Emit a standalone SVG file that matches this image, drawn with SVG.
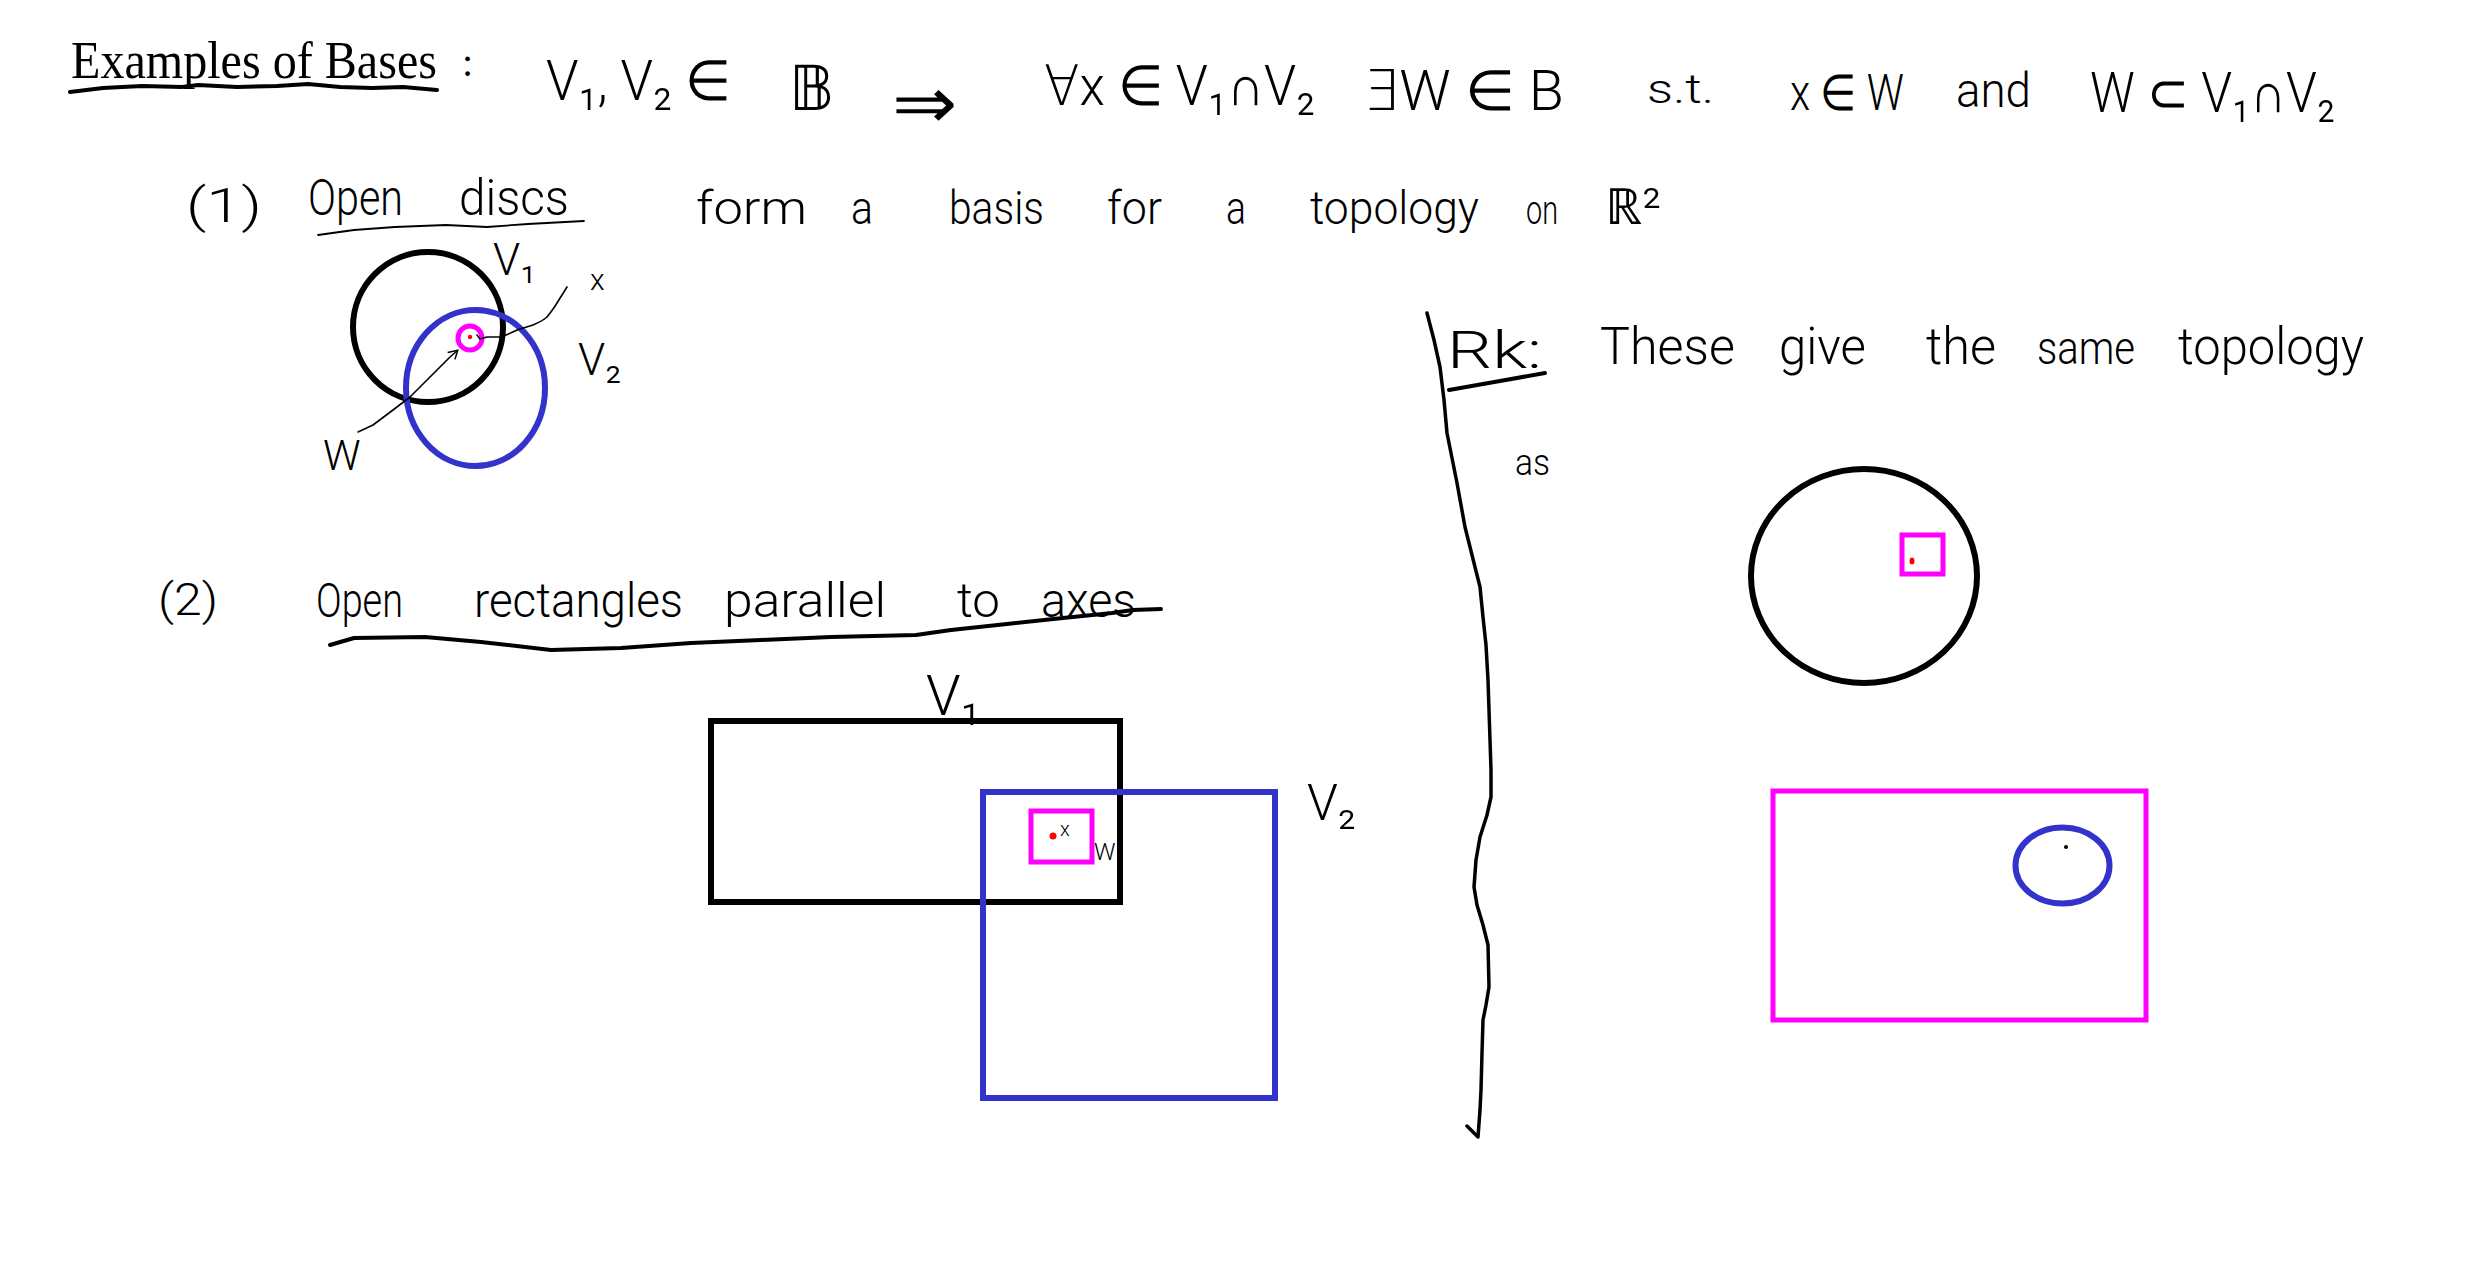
<svg xmlns="http://www.w3.org/2000/svg" width="2480" height="1264" viewBox="0 0 2480 1264">
<defs>
<style>
.hw{font-family:Roboto,"DejaVu Sans","Noto Sans",sans-serif;font-weight:300;fill:#000}
.serif{font-family:"Liberation Serif","Times New Roman",serif;fill:#000}
.ink{fill:none;stroke:#000;stroke-linecap:round;stroke-linejoin:round}
.blk{fill:none;stroke:#000;stroke-width:6}
.blu{fill:none;stroke:#3333cc;stroke-width:6}
.mag{fill:none;stroke:#ff00ff;stroke-width:5}
.red{fill:#ff0000}
</style>
<marker id="hook" viewBox="0 0 12 12" refX="9" refY="6" markerWidth="12" markerHeight="12" markerUnits="userSpaceOnUse" orient="auto">
<path d="M1,1 L10,6 L2,11" fill="none" stroke="#000" stroke-width="1.5"/>
</marker>
</defs>
<rect width="2480" height="1264" fill="#fff"/>

<g id="title">
<text class="serif" x="71" y="78" font-size="52" textLength="366" lengthAdjust="spacingAndGlyphs">Examples of Bases</text>
<text class="serif" x="462" y="76" font-size="40">:</text>
<path class="ink" stroke-width="4" d="M70,92 L103,88 L142,86 L182,87 L198,85 L237,87 L277,86 L308,84 L340,87 L372,88 L403,87 L437,90"/>
</g>

<g id="formula">
<text class="hw" x="546" y="100" font-size="56" textLength="185" lengthAdjust="spacingAndGlyphs">V₁, V₂ ∈</text>
<text class="hw" x="789" y="110" font-size="62">𝔹</text>
<text class="hw" x="892" y="128" font-size="72" textLength="65" lengthAdjust="spacingAndGlyphs">⇒</text>
<text class="hw" x="1044" y="105" font-size="56" textLength="271" lengthAdjust="spacingAndGlyphs">∀x ∈ V₁∩V₂</text>
<text class="hw" x="1363" y="110" font-size="56" textLength="201" lengthAdjust="spacingAndGlyphs">∃W ∈ B</text>
<text class="hw" x="1647" y="103" font-size="40" textLength="67" lengthAdjust="spacingAndGlyphs">s.t.</text>
<text class="hw" x="1790" y="110" font-size="50" textLength="114" lengthAdjust="spacingAndGlyphs">x ∈ W</text>
<text class="hw" x="1956" y="107" font-size="48" textLength="75" lengthAdjust="spacingAndGlyphs">and</text>
<text class="hw" x="2090" y="112" font-size="56" textLength="245" lengthAdjust="spacingAndGlyphs">W ⊂ V₁∩V₂</text>
</g>

<g id="item1">
<text class="hw" x="186" y="222" font-size="48" textLength="76" lengthAdjust="spacingAndGlyphs">(1)</text>
<text class="hw" x="308" y="215" font-size="50" textLength="95" lengthAdjust="spacingAndGlyphs">Open</text>
<text class="hw" x="459" y="215" font-size="50" textLength="110" lengthAdjust="spacingAndGlyphs">discs</text>
<path class="ink" stroke-width="1.8" d="M318,235 L354,230 L395,227 L446,225 L487,227 L528,224 L584,221"/>
<text class="hw" x="696" y="224" font-size="46" textLength="111" lengthAdjust="spacingAndGlyphs">form</text>
<text class="hw" x="851" y="224" font-size="46" textLength="22" lengthAdjust="spacingAndGlyphs">a</text>
<text class="hw" x="949" y="224" font-size="46" textLength="95" lengthAdjust="spacingAndGlyphs">basis</text>
<text class="hw" x="1107" y="224" font-size="46" textLength="55" lengthAdjust="spacingAndGlyphs">for</text>
<text class="hw" x="1226" y="224" font-size="46" textLength="20" lengthAdjust="spacingAndGlyphs">a</text>
<text class="hw" x="1310" y="224" font-size="46" textLength="169" lengthAdjust="spacingAndGlyphs">topology</text>
<text class="hw" x="1526" y="224" font-size="40" textLength="32" lengthAdjust="spacingAndGlyphs">on</text>
<text class="hw" x="1605" y="224" font-size="50" textLength="56" lengthAdjust="spacingAndGlyphs">ℝ²</text>
</g>

<g id="discs">
<g id="disc-v1"><circle class="blk" cx="428" cy="327" r="75"/><text class="hw" x="493" y="275" font-size="44">V₁</text></g>
<g id="disc-v2"><ellipse class="blu" cx="475.5" cy="388" rx="69.5" ry="78"/><text class="hw" x="578" y="375" font-size="44">V₂</text></g>
<g id="disc-w"><circle class="mag" cx="470" cy="338" r="12" stroke-width="3.5"/><circle class="red" cx="470" cy="337" r="2.2"/></g>
<g id="disc-x-label"><text class="hw" x="590" y="290" font-size="30">x</text></g>
<g id="disc-w-label"><text class="hw" x="323" y="470" font-size="42">W</text></g>
</g>

<g id="connectors">
<path class="ink" stroke-width="1.6" d="M477,335 L480,339 L487,337 L500,337 C508,335 512,332 517,330 L533,325 C540,322 544,320 547,317 C551,312 554,308 557,303 L567,287"/>
<path class="ink" stroke-width="1.6" marker-end="url(#hook)" d="M358,432 L373,425 L393,410 L410,397 L427,380 L440,367 L450,357 L457,351"/>
</g>

<g id="item2">
<text class="hw" x="158" y="615" font-size="44" textLength="60" lengthAdjust="spacingAndGlyphs">(2)</text>
<text class="hw" x="316" y="617" font-size="48" textLength="87" lengthAdjust="spacingAndGlyphs">Open</text>
<text class="hw" x="474" y="617" font-size="48" textLength="209" lengthAdjust="spacingAndGlyphs">rectangles</text>
<text class="hw" x="724" y="617" font-size="48" textLength="162" lengthAdjust="spacingAndGlyphs">parallel</text>
<text class="hw" x="957" y="617" font-size="48" textLength="43" lengthAdjust="spacingAndGlyphs">to</text>
<text class="hw" x="1041" y="617" font-size="48" textLength="95" lengthAdjust="spacingAndGlyphs">axes</text>
<path class="ink" stroke-width="4" d="M330,645 L354,638 L425,637 L481,642 L551,650 L621,648 L691,643 L761,640 L831,637 L916,635 L951,630 L1007,624 L1063,618 L1112,613 L1133,610 L1161,609"/>
</g>

<g id="rects">
<g id="rect-v1"><rect class="blk" x="711" y="721" width="409" height="181" stroke-width="5"/><text class="hw" x="926" y="715" font-size="56">V₁</text></g>
<g id="rect-v2"><rect class="blu" x="983" y="792" width="292" height="306" stroke-width="5"/><text class="hw" x="1307" y="820" font-size="50">V₂</text></g>
<g id="rect-w"><rect class="mag" x="1031" y="811" width="61" height="51"/><circle class="red" cx="1053" cy="836" r="3.5"/><text class="hw" x="1060" y="836" font-size="20">x</text><text class="hw" x="1094" y="860" font-size="24">W</text></g>
</g>

<g id="separator">
<path class="ink" stroke-width="3.5" d="M1427,313 L1434,340 L1440,367 L1444,400 L1447,433 L1452,458 L1457,483 L1461,505 L1465,527 L1472,555 L1480,587 L1483,617 L1486,645 L1488,680 L1490,740 L1491,770 L1491,797 L1487,815 L1480,837 L1476,860 L1474,887 L1477,905 L1483,925 L1488,945 L1489,987 L1486,1005 L1483,1020 L1482,1053 L1481,1090 L1480,1110 L1478,1137 L1467,1126"/>
</g>

<g id="remark">
<text class="hw" x="1447" y="368" font-size="52" textLength="95" lengthAdjust="spacingAndGlyphs">Rk:</text>
<path class="ink" stroke-width="4" d="M1449,390 L1500,381 L1545,373"/>
<text class="hw" x="1600" y="364" font-size="52" textLength="135" lengthAdjust="spacingAndGlyphs">These</text>
<text class="hw" x="1779" y="364" font-size="52" textLength="87" lengthAdjust="spacingAndGlyphs">give</text>
<text class="hw" x="1926" y="364" font-size="52" textLength="70" lengthAdjust="spacingAndGlyphs">the</text>
<text class="hw" x="2037" y="364" font-size="46" textLength="98" lengthAdjust="spacingAndGlyphs">same</text>
<text class="hw" x="2178" y="364" font-size="52" textLength="186" lengthAdjust="spacingAndGlyphs">topology</text>
<text class="hw" x="1515" y="475" font-size="36" textLength="35" lengthAdjust="spacingAndGlyphs">as</text>
</g>

<g id="remark-disc">
<ellipse class="blk" cx="1864" cy="576" rx="113" ry="107"/>
<rect class="mag" x="1902" y="535" width="41" height="39"/>
<ellipse class="red" cx="1912" cy="561" rx="2.5" ry="3.5"/>
</g>

<g id="remark-rect">
<rect class="mag" x="1773" y="791" width="373" height="229"/>
<ellipse class="blu" cx="2062.5" cy="865.5" rx="47" ry="38" stroke-width="5"/>
<circle cx="2066" cy="847" r="2" fill="#000"/>
</g>
</svg>
